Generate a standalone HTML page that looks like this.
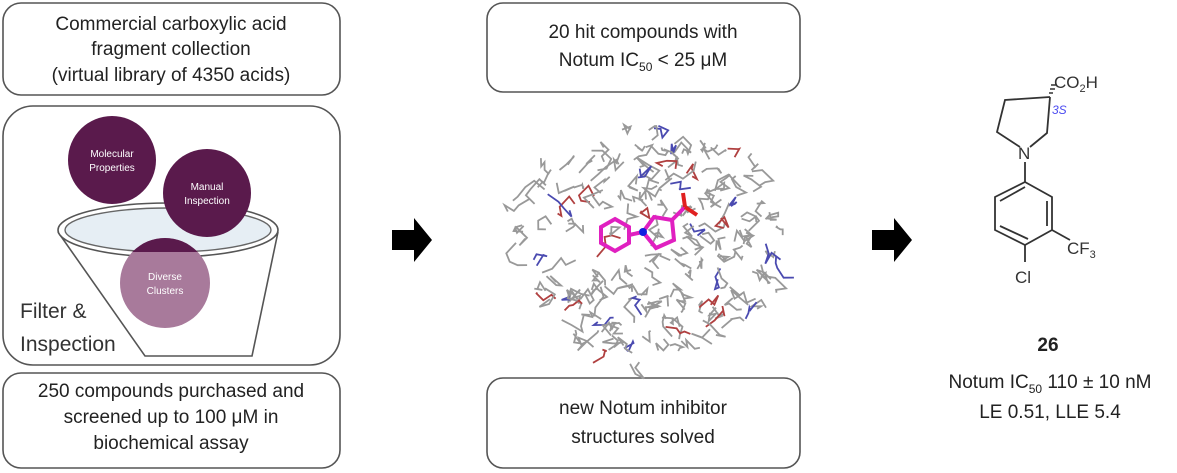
<!DOCTYPE html>
<html><head><meta charset="utf-8"><style>
body{margin:0;background:#fff;width:1177px;height:473px;overflow:hidden;font-family:"Liberation Sans",sans-serif;}
svg{position:absolute;left:0;top:0}
</style></head><body>
<svg width="1177" height="473" viewBox="0 0 1177 473" font-family="Liberation Sans, DejaVu Sans, sans-serif">
<g fill="#fff" stroke="#555" stroke-width="1.6">
<rect x="3" y="3" width="337" height="92" rx="18"/>
<rect x="3" y="106" width="337" height="259" rx="30"/>
<rect x="3" y="373" width="337" height="95" rx="18"/>
<rect x="487" y="3" width="313" height="89" rx="16"/>
<rect x="487" y="378" width="313" height="90" rx="16"/>
</g>
<g font-size="19" fill="#222" text-anchor="middle">
<text x="171" y="30">Commercial carboxylic acid</text>
<text x="171" y="55">fragment collection</text>
<text x="171" y="81">(virtual library of 4350 acids)</text>
<text x="171" y="397">250 compounds purchased and</text>
<text x="171" y="423">screened up to 100 μM in</text>
<text x="171" y="449">biochemical assay</text>
<text x="643" y="38">20 hit compounds with</text>
<text x="643" y="66">Notum IC<tspan font-size="12" dy="5">50</tspan><tspan dy="-5"> &lt; 25 μM</tspan></text>
<text x="643" y="414">new Notum inhibitor</text>
<text x="643" y="443">structures solved</text>
</g>
<path d="M58 232 L145 356 L252 356 L278 232" fill="#fff" stroke="#555" stroke-width="1.6"/>
<ellipse cx="168" cy="230" rx="110" ry="27" fill="#fff" stroke="#555" stroke-width="1.6"/>
<ellipse cx="168" cy="230" rx="103" ry="22" fill="#e6eef4" stroke="#666" stroke-width="1.4"/>
<circle cx="112" cy="160" r="44" fill="#5a1a4c"/>
<circle cx="207" cy="193" r="44" fill="#5a1a4c"/>
<clipPath id="c1"><rect x="0" y="0" width="400" height="252"/></clipPath>
<circle cx="165" cy="283" r="45" fill="#a87a9b"/>
<circle cx="165" cy="283" r="45" fill="#5a1a4c" clip-path="url(#c1)"/>
<g fill="#fff" font-size="10" text-anchor="middle">
<text x="112" y="157">Molecular</text><text x="112" y="171">Properties</text>
<text x="207" y="190">Manual</text><text x="207" y="204">Inspection</text>
<text x="165" y="280">Diverse</text><text x="165" y="294">Clusters</text>
</g>
<g font-size="21" fill="#333"><text x="20" y="318">Filter &amp;</text><text x="20" y="351">Inspection</text></g>
<path d="M392 230 h22 v-12 l18 22 l-18 22 v-12 h-22z" fill="#000"/>
<path d="M872 230 h22 v-12 l18 22 l-18 22 v-12 h-22z" fill="#000"/>
<g id="prot" stroke="#999" stroke-width="1.8" fill="none"></g>
<g stroke="#e020c0" stroke-width="4" fill="none">
<polygon points="615,219 629,227 629,243 615,251 601,243 601,227"/>
<line x1="629" y1="235" x2="643" y2="232"/>
<polygon points="643,232 654,217 672,220 674,240 656,248" />
<line x1="672" y1="220" x2="685" y2="207"/>
</g>
<circle cx="643" cy="232" r="4" fill="#1020e0"/>
<line x1="685" y1="207" x2="683" y2="193" stroke="#e02020" stroke-width="4"/>
<line x1="685" y1="207" x2="697" y2="215" stroke="#e02020" stroke-width="4"/>
<g stroke="#333" stroke-width="1.8" fill="none">
<polyline points="1050,97 1047,133 1030,147"/>
<polyline points="1020,147 997,132 1005,100 1050,97"/>
<line x1="1025" y1="162" x2="1025" y2="182"/>
<polygon points="1025,182 1052,197 1052,230 1025,245 995,230 995,197"/>
<line x1="1047" y1="201" x2="1047" y2="226"/>
<line x1="1028" y1="239" x2="1000" y2="226"/>
<line x1="1000" y1="201" x2="1025" y2="187"/>
<line x1="1052" y1="230" x2="1070" y2="240"/>
<line x1="1025" y1="245" x2="1025" y2="262"/>
</g>
<g stroke="#333" stroke-width="1.5">
<line x1="1049" y1="93" x2="1053" y2="93"/><line x1="1050" y1="89" x2="1055" y2="89"/><line x1="1051" y1="85" x2="1057" y2="85"/>
</g>
<g font-size="17" fill="#333">
<text x="1054" y="88">CO<tspan font-size="11" dy="4">2</tspan><tspan dy="-4">H</tspan></text>
<text x="1018" y="159">N</text>
<text x="1067" y="254">CF<tspan font-size="11" dy="4">3</tspan></text>
<text x="1015" y="283">Cl</text>
</g>
<text x="1052" y="114" font-size="12" font-style="italic" fill="#4a4af0">3S</text>
<g font-size="19" fill="#222" text-anchor="middle">
<text x="1048" y="351" font-weight="bold">26</text>
<text x="1050" y="388">Notum IC<tspan font-size="12" dy="5">50</tspan><tspan dy="-5"> 110 ± 10 nM</tspan></text>
<text x="1050" y="418">LE 0.51, LLE 5.4</text>
</g>
</svg>
<script>
(function(){var g=document.getElementById('prot');var s=11;function r(){s=(s*16807)%2147483647;return s/2147483647;}
var ns='http://www.w3.org/2000/svg';
for(var k=0;k<260;k++){var x=515+r()*280,y=120+r()*250;var dx=(x-650)/135,dy=(y-245)/118;if(dx*dx+dy*dy>1)continue;
var p='M'+x.toFixed(1)+' '+y.toFixed(1);for(var i=0;i<4;i++){x+=(r()-0.5)*22;y+=(r()-0.5)*22;p+=' L'+x.toFixed(1)+' '+y.toFixed(1);}
var e=document.createElementNS(ns,'path');e.setAttribute('d',p);if(k%9==0)e.setAttribute('stroke','#4a4ab0');else if(k%11==0)e.setAttribute('stroke','#b04040');g.appendChild(e);}})();
</script>
</body></html>
